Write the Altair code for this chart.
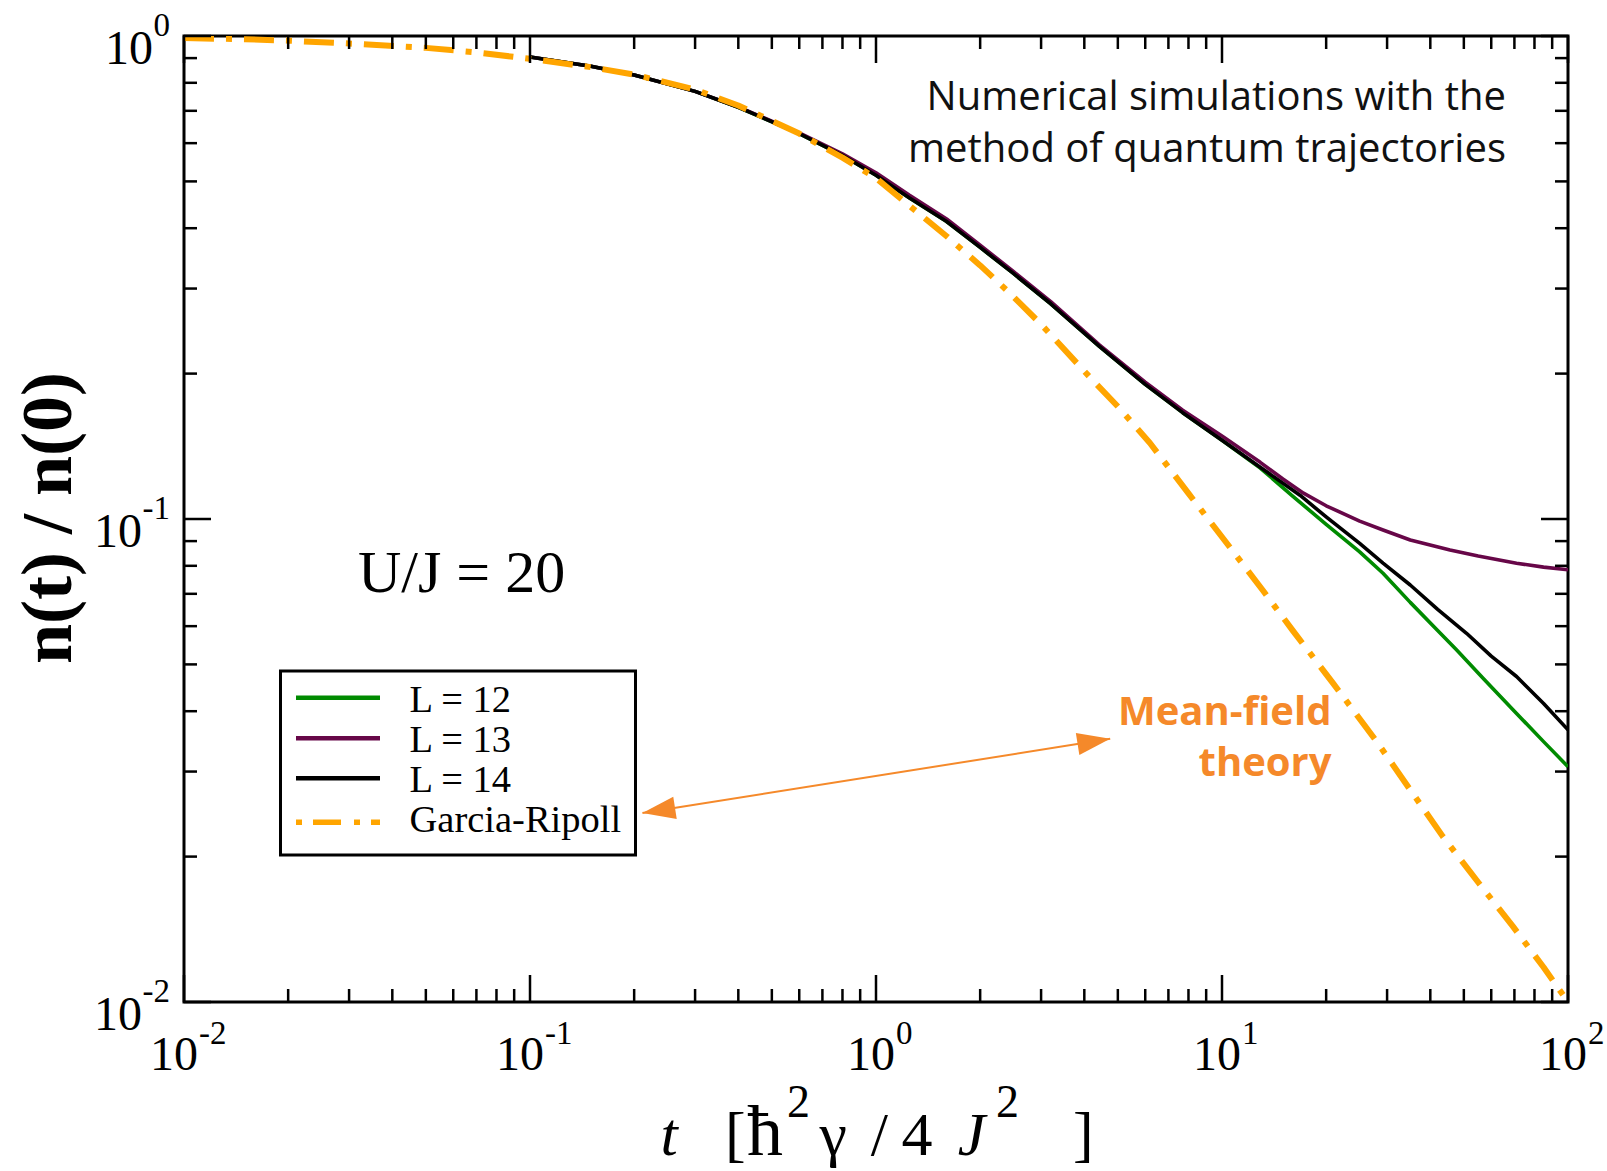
import altair as alt
import pandas as pd

# ---------------- data ----------------
series_names = ["L = 12", "L = 13", "L = 14", "Garcia-Ripoll"]
series_colors = ["#008b00", "#670748", "#000000", "#ffa500"]

t_l12 = [0.1, 0.15, 0.2, 0.3, 0.4, 0.6, 0.8, 1.0, 1.25, 1.6, 2.0, 2.5, 3.2, 4.43, 6.0, 7.7, 10.0,
         12.9, 16.0, 20.0, 25.0, 29.2, 35.0, 42.0, 47.6, 57.0, 70.0, 85.0, 100.0]
n_l12 = [0.905, 0.866, 0.830, 0.768, 0.712, 0.628, 0.566, 0.515, 0.462, 0.413, 0.365, 0.322, 0.279, 0.2274, 0.190, 0.166, 0.1455,
         0.1275, 0.1115, 0.0975, 0.0855, 0.0772, 0.0672, 0.0588, 0.0536, 0.0467, 0.0400, 0.0346, 0.0307]

t_l13 = [0.1, 0.15, 0.2, 0.3, 0.4, 0.6, 0.8, 1.0, 1.25, 1.6, 2.0, 2.5, 3.2, 4.43, 6.0, 7.7, 10.0,
         12.9, 15.0, 17.2, 20.0, 25.0, 29.2, 35.0, 45.6, 55.0, 71.0, 85.0, 100.0]
n_l13 = [0.905, 0.866, 0.830, 0.768, 0.713, 0.630, 0.570, 0.521, 0.468, 0.418, 0.369, 0.325, 0.282, 0.229, 0.192, 0.168, 0.1485,
         0.1310, 0.1210, 0.1131, 0.1065, 0.0990, 0.0949, 0.0905, 0.0863, 0.0838, 0.0810, 0.0795, 0.0785]

t_l14 = [0.1, 0.15, 0.2, 0.3, 0.4, 0.6, 0.8, 1.0, 1.25, 1.6, 2.0, 2.5, 3.2, 4.43, 6.0, 7.7, 10.0,
         12.9, 16.8, 20.0, 25.0, 29.2, 35.0, 42.0, 50.9, 60.0, 71.0, 85.0, 100.0]
n_l14 = [0.905, 0.866, 0.830, 0.768, 0.712, 0.628, 0.566, 0.515, 0.462, 0.413, 0.365, 0.322, 0.279, 0.2274, 0.190, 0.166, 0.1455,
         0.128, 0.112, 0.101, 0.089, 0.081, 0.073, 0.065, 0.058, 0.052, 0.0472, 0.0415, 0.0366]

t_gr = [0.01, 0.015, 0.02, 0.03, 0.05, 0.07, 0.1, 0.15, 0.2, 0.3, 0.4, 0.6, 0.8, 1.0, 1.25, 1.6, 2.0, 2.43,
        3.0, 4.14, 5.0, 6.19, 8.0, 10.5, 13.1, 16.0, 20.9, 28.0, 35.0, 43.5, 55.0, 69.3, 85.0, 100.0]
n_gr = [0.990, 0.985, 0.978, 0.965, 0.945, 0.925, 0.897, 0.862, 0.832, 0.775, 0.718, 0.628, 0.560, 0.508, 0.445, 0.385, 0.335, 0.294,
        0.253, 0.197, 0.171, 0.1437, 0.113, 0.0877, 0.0713, 0.0588, 0.0458, 0.0346, 0.0275, 0.0220, 0.0177, 0.01434, 0.0118, 0.0100]

x_exponents = [-2, -1, 0, 1, 2]
y_exponents = [-2, -1, 0]
minor_multipliers = [2, 3, 4, 5, 6, 7, 8, 9]

arrow_t = [0.2113, 4.752]
arrow_n = [0.02461, 0.03507]

# ---------------- layout / style ----------------
W, H = 1384, 966
ORANGE2 = "#f5892a"
SERIF = "Liberation Serif"
SANS = "Open Sans"
BASE_FS, EXP_FS = 48, 33

xs = alt.Scale(type="log", domain=[0.01, 100], nice=False)
ys = alt.Scale(type="log", domain=[0.01, 1], nice=False)

frames = []
for name, t, n in zip(series_names, [t_l12, t_l13, t_l14, t_gr], [n_l12, n_l13, n_l14, n_gr]):
    frames.append(pd.DataFrame({"series": name, "t": t, "n": n}))
lines_df = pd.concat(frames, ignore_index=True)

layers = []

# data lines (drawn in legend order: L=12, L=13, L=14, Garcia-Ripoll on top)
for name, color in zip(series_names, series_colors):
    kw = dict(color=color, clip=True, strokeCap="butt", strokeJoin="round")
    if name == "Garcia-Ripoll":
        kw.update(strokeWidth=6, strokeDash=[30, 12, 6, 12])
    else:
        kw.update(strokeWidth=3.6)
    layers.append(
        alt.Chart(lines_df).transform_filter(alt.datum.series == name)
        .mark_line(**kw)
        .encode(x=alt.X("t:Q", scale=xs, axis=None),
                y=alt.Y("n:Q", scale=ys, axis=None),
                order="t:Q")
    )

# ticks (inside, all four sides)
x_major = [10.0 ** e for e in x_exponents]
x_minor = [m * 10.0 ** e for e in x_exponents[:-1] for m in minor_multipliers]
y_major = [10.0 ** e for e in y_exponents]
y_minor = [m * 10.0 ** e for e in y_exponents[:-1] for m in minor_multipliers]
MAJ, MIN = 27, 13
for vals, ln in [(x_major, MAJ), (x_minor, MIN)]:
    d = pd.DataFrame({"v": vals})
    layers.append(alt.Chart(d).mark_rule(color="black", strokeWidth=2.5).encode(
        x=alt.X("v:Q", scale=xs, axis=None), y=alt.value(H), y2=alt.value(H - ln)))
    layers.append(alt.Chart(d).mark_rule(color="black", strokeWidth=2.5).encode(
        x=alt.X("v:Q", scale=xs, axis=None), y=alt.value(0), y2=alt.value(ln)))
for vals, ln in [(y_major, MAJ), (y_minor, MIN)]:
    d = pd.DataFrame({"v": vals})
    layers.append(alt.Chart(d).mark_rule(color="black", strokeWidth=2.5).encode(
        y=alt.Y("v:Q", scale=ys, axis=None), x=alt.value(0), x2=alt.value(ln)))
    layers.append(alt.Chart(d).mark_rule(color="black", strokeWidth=2.5).encode(
        y=alt.Y("v:Q", scale=ys, axis=None), x=alt.value(W), x2=alt.value(W - ln)))

# tick labels 10^k
xl = pd.DataFrame({"e": x_exponents})
xl["v"] = 10.0 ** xl["e"]
xl["exp"] = xl["e"].astype(str)
for cond, junction in [("datum.e < 0", 14), ("datum.e >= 0", 19)]:
    layers.append(alt.Chart(xl).transform_filter(cond).mark_text(
        text="10", align="right", baseline="alphabetic", font=SERIF, fontSize=BASE_FS, dx=junction, color="black"
    ).encode(x=alt.X("v:Q", scale=xs, axis=None), y=alt.value(H + 68)))
    layers.append(alt.Chart(xl).transform_filter(cond).mark_text(
        align="left", baseline="alphabetic", font=SERIF, fontSize=EXP_FS, dx=junction + 1, color="black"
    ).encode(x=alt.X("v:Q", scale=xs, axis=None), y=alt.value(H + 42), text="exp:N"))

yl = pd.DataFrame({"e": y_exponents})
yl["v"] = 10.0 ** yl["e"]
yl["exp"] = yl["e"].astype(str)
for cond, base_x in [("datum.e < 0", -42), ("datum.e >= 0", -31)]:
    layers.append(alt.Chart(yl).transform_filter(cond).mark_text(
        text="10", align="right", baseline="alphabetic", font=SERIF, fontSize=BASE_FS, dy=28, color="black"
    ).encode(y=alt.Y("v:Q", scale=ys, axis=None), x=alt.value(base_x)))
    layers.append(alt.Chart(yl).transform_filter(cond).mark_text(
        align="right", baseline="alphabetic", font=SERIF, fontSize=EXP_FS, dy=0, color="black"
    ).encode(y=alt.Y("v:Q", scale=ys, axis=None), x=alt.value(-14), text="exp:N"))

one = pd.DataFrame({"a": [0]})


def label(text, x, y, **kw):
    return alt.Chart(one).mark_text(text=text, **kw).encode(x=alt.value(x), y=alt.value(y))


# axis titles
layers.append(label("n(t) / n(0)", -135, 482, angle=270, align="center", baseline="middle",
                    font=SERIF, fontWeight="bold", fontSize=72, color="black"))
xtitle = [("t", 476.5, 1119, 62, "italic"), ("[", 541, 1119, 62, "normal"), ("ħ", 563, 1119, 72, "normal"),
          ("2", 603, 1081, 46, "normal"),
          ("γ", 635.5, 1119, 62, "normal"), ("/", 686.7, 1119, 62, "normal"), ("4", 717.4, 1119, 62, "normal"),
          ("J", 773.8, 1119, 62, "italic"), ("2", 812, 1081, 46, "normal"), ("]", 889, 1119, 62, "normal")]
for txt, x, y, fs, st in xtitle:
    layers.append(label(txt, x, y, align="left", baseline="alphabetic", font=SERIF,
                        fontSize=fs, fontStyle=st, color="black"))

# annotations
layers.append(label("Numerical simulations with the", 1322, 74, align="right", baseline="alphabetic",
                    font=SANS, fontSize=40, color="#111111"))
layers.append(label("method of quantum trajectories", 1322, 126, align="right", baseline="alphabetic",
                    font=SANS, fontSize=40, color="#111111"))
layers.append(label("U/J = 20", 174, 556, align="left", baseline="alphabetic", font=SERIF, fontSize=60,
                    color="black"))
layers.append(label("Mean-field", 1147.5, 688.6, align="right", baseline="alphabetic", font=SANS,
                    fontWeight="bold", fontSize=40, color=ORANGE2))
layers.append(label("theory", 1147.5, 740, align="right", baseline="alphabetic", font=SANS,
                    fontWeight="bold", fontSize=40, color=ORANGE2))

# double-headed arrow
arrow_df = pd.DataFrame({"t": arrow_t, "n": arrow_n, "end": ["left", "right"]})
layers.append(alt.Chart(arrow_df).mark_line(color=ORANGE2, strokeWidth=2).encode(
    x=alt.X("t:Q", scale=xs, axis=None), y=alt.Y("n:Q", scale=ys, axis=None)))
for end, path in [("left", "M0,0L2,-0.68L2,0.68Z"), ("right", "M0,0L-2,-0.68L-2,0.68Z")]:
    layers.append(alt.Chart(arrow_df).transform_filter(alt.datum.end == end).mark_point(
        shape=path, filled=True, size=1089, angle=351, color=ORANGE2, opacity=1, strokeWidth=0
    ).encode(x=alt.X("t:Q", scale=xs, axis=None), y=alt.Y("n:Q", scale=ys, axis=None)))

# legend (drawn by hand, xmgrace style)
layers.append(alt.Chart(one).mark_rect(fill="white", stroke="black", strokeWidth=3).encode(
    x=alt.value(96.5), x2=alt.value(451.5), y=alt.value(635), y2=alt.value(819)))
sym_y = [661.7, 702.3, 742.3, 786.3]
lab_y = [675.7, 715.5, 755.7, 795.7]
for name, color, sy, ly in zip(series_names, series_colors, sym_y, lab_y):
    kw = dict(color=color, strokeWidth=4.5, strokeCap="butt")
    if name == "Garcia-Ripoll":
        kw.update(strokeDash=[6, 11, 28, 13], strokeWidth=5.5)
    layers.append(alt.Chart(one).mark_rule(**kw).encode(
        x=alt.value(112), x2=alt.value(196), y=alt.value(sy)))
    layers.append(label(name, 225.5, ly, align="left", baseline="alphabetic", font=SERIF,
                        fontSize=38.5, color="black"))

chart = alt.layer(*layers).properties(
    width=W, height=H,
    autosize=alt.AutoSizeParams(type="none"),
    padding={"left": 184, "top": 36, "right": 39, "bottom": 169},
    background="white",
).configure_view(stroke="black", strokeWidth=3)

chart.save("out.html", embed_options={"renderer": "svg", "actions": False})
